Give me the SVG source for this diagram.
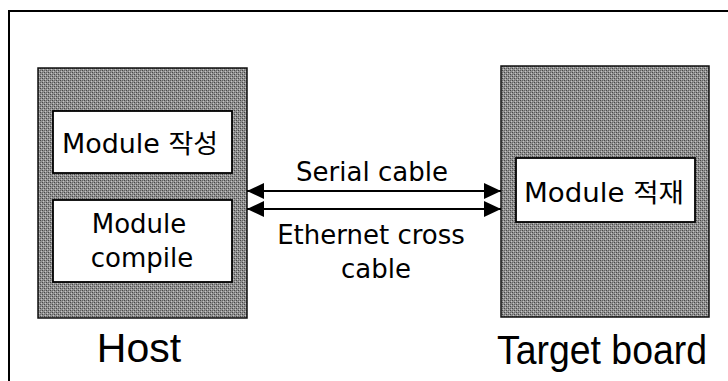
<svg xmlns="http://www.w3.org/2000/svg" width="728" height="381" viewBox="0 0 728 381">
<defs>
<pattern id="dither" width="4" height="4" patternUnits="userSpaceOnUse">
<rect width="4" height="4" fill="#929292"/>
<rect x="0" y="0" width="1" height="1" fill="#474747"/>
<rect x="2" y="2" width="1" height="1" fill="#474747"/>
<rect x="2" y="0" width="1" height="1" fill="#666"/>
<rect x="0" y="2" width="1" height="1" fill="#666"/>
<rect x="1" y="3" width="1" height="1" fill="#c4c4c4"/>
<rect x="3" y="1" width="1" height="1" fill="#c4c4c4"/>
</pattern>
<marker id="ah" viewBox="0 0 17 16" refX="17" refY="8" markerWidth="17" markerHeight="16" markerUnits="userSpaceOnUse" orient="auto-start-reverse">
<path d="M0,0 L17,8 L0,16 z" fill="#000"/>
</marker>
</defs>
<style>
.outer{fill:url(#dither);stroke:#111;stroke-width:1.5}
.inner{fill:#fff;stroke:#000;stroke-width:1.8}
.t{font-family:"DejaVu Sans","Noto Sans CJK KR",sans-serif;font-size:26px;fill:#000;text-anchor:middle}
.big{font-family:"Liberation Sans","Noto Sans CJK KR",sans-serif;font-size:41px;fill:#000;text-anchor:middle}
.conn{stroke:#000;stroke-width:2;fill:none;marker-start:url(#ah);marker-end:url(#ah)}
</style>
<rect width="728" height="381" fill="#fff"/>
<path d="M9,381 V11 H728" fill="none" stroke="#000" stroke-width="2"/>

<g id="host">
<rect class="outer" x="38" y="68" width="209" height="250"/>
<text class="big" x="139" y="362">Host</text>
</g>
<g id="module-write">
<rect class="inner" x="53" y="111" width="179" height="62"/>
<text class="t" x="140" y="153" textLength="156" lengthAdjust="spacingAndGlyphs">Module 작성</text>
</g>
<g id="module-compile">
<rect class="inner" x="53" y="200" width="179" height="82"/>
<text class="t" x="139" y="233">Module</text>
<text class="t" x="142" y="267">compile</text>
</g>
<g id="target">
<rect class="outer" x="501" y="66" width="208" height="251"/>
<text class="big" x="602" y="364" textLength="210" lengthAdjust="spacingAndGlyphs">Target board</text>
</g>
<g id="module-load">
<rect class="inner" x="516" y="158" width="179" height="64"/>
<text class="t" x="604" y="202" textLength="160" lengthAdjust="spacingAndGlyphs">Module 적재</text>
</g>

<g id="connectors">
<line class="conn" x1="247" y1="191" x2="501" y2="191"/>
<line class="conn" x1="247" y1="209" x2="501" y2="209"/>
<text class="t" x="372" y="181">Serial cable</text>
<text class="t" x="371" y="244">Ethernet cross</text>
<text class="t" x="376" y="278">cable</text>
</g>
</svg>
